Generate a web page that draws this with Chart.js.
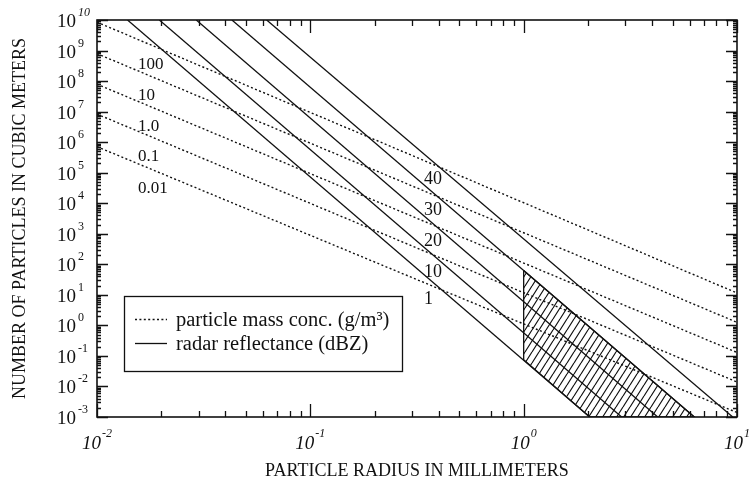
<!DOCTYPE html>
<html>
<head>
<meta charset="utf-8">
<title>Particle number vs radius</title>
<script src="https://cdn.jsdelivr.net/npm/chart.js@4.4.1/dist/chart.umd.min.js"></script>
<style>
  html, body { margin: 0; padding: 0; background: #fff; }
  #wrap { width: 750px; height: 480px; }
</style>
</head>
<body>
<div id="wrap"><canvas id="chart" width="750" height="480"></canvas></div>
<script>
// mass concentration lines (g/m3): number at r = 0.01 mm and at r = 10 mm
const massLabels = ['100', '10', '1.0', '0.1', '0.01'];
const massAtLeft = [8.5e9, 7.9e8, 7.9e7, 8.3e6, 7.1e5];
const massAtRight = [11.5, 1.26, 0.13, 0.014, 0.0014];
const radiusEnds = [0.01, 10];

// radar reflectance lines (dBZ): radius where N = 1e10 and where N = 1e-3
const dbzLabels = ['1', '10', '20', '30', '40'];
const dbzTopRadius = [0.0139, 0.0196, 0.0292, 0.0429, 0.0624];
const dbzBottomRadius = [2.04, 2.88, 4.25, 6.31, 9.55];
const countEnds = [1e10, 1e-3];

// hatched region (r >= 1 mm, between 1 and 30 dBZ)
const hatchRadius = [1, 6.31, 2.04, 1, 1];
const hatchCount = [63, 1e-3, 1e-3, 0.075, 63];

// axis ticks
const xTickValues = [0.01, 0.1, 1, 10];
const xTickExps = ['-2', '-1', '0', '1'];
const yTickValues = [1e-3, 1e-2, 1e-1, 1, 1e1, 1e2, 1e3, 1e4, 1e5, 1e6, 1e7, 1e8, 1e9, 1e10];
const yTickExps = ['-3', '-2', '-1', '0', '1', '2', '3', '4', '5', '6', '7', '8', '9', '10'];

const xTitle = 'PARTICLE RADIUS IN MILLIMETERS';
const yTitle = 'NUMBER OF PARTICLES IN CUBIC METERS';
const legendTexts = ['particle mass conc. (g/m³)', 'radar reflectance (dBZ)'];

const SERIF = '"Liberation Serif", "Times New Roman", serif';
const INK = '#111';

function makeHatch() {
  const c = document.createElement('canvas');
  c.width = 7; c.height = 11;
  const g = c.getContext('2d');
  g.strokeStyle = INK;
  g.lineWidth = 1.2;
  g.beginPath();
  for (const dx of [-7, 0, 7]) { g.moveTo(dx, 11); g.lineTo(dx + 7, 0); }
  g.stroke();
  return g.createPattern(c, 'repeat');
}

const datasets = [];

datasets.push({
  label: 'hatch',
  data: hatchRadius.map((r, i) => ({ x: r, y: hatchCount[i] })),
  showLine: true,
  fill: 'shape',
  backgroundColor: makeHatch(),
  borderColor: INK,
  borderWidth: 1.3,
  pointRadius: 0
});

massLabels.forEach((lab, i) => {
  datasets.push({
    label: lab,
    kind: 'mass',
    data: [{ x: radiusEnds[0], y: massAtLeft[i] }, { x: radiusEnds[1], y: massAtRight[i] }],
    showLine: true,
    borderColor: INK,
    borderWidth: 1.4,
    borderDash: [2, 2.4],
    pointRadius: 0,
    fill: false
  });
});

dbzLabels.forEach((lab, i) => {
  datasets.push({
    label: lab,
    kind: 'dbz',
    data: [{ x: dbzTopRadius[i], y: countEnds[0] }, { x: dbzBottomRadius[i], y: countEnds[1] }],
    showLine: true,
    borderColor: INK,
    borderWidth: 1.3,
    pointRadius: 0,
    fill: false
  });
});

// y pixel of a two point line at a given x pixel
function lineYAt(chart, pts, px) {
  const { x, y } = chart.scales;
  const x0 = x.getPixelForValue(pts[0].x), y0 = y.getPixelForValue(pts[0].y);
  const x1 = x.getPixelForValue(pts[1].x), y1 = y.getPixelForValue(pts[1].y);
  return y0 + (y1 - y0) * (px - x0) / (x1 - x0);
}

const paperAxes = {
  id: 'paperAxes',
  afterDraw(chart) {
    const { ctx, chartArea: a, scales: { x, y } } = chart;
    ctx.save();
    ctx.setLineDash([]);
    ctx.strokeStyle = INK;
    ctx.fillStyle = INK;

    // frame
    ctx.lineWidth = 1.6;
    ctx.strokeRect(a.left, a.top, a.right - a.left, a.bottom - a.top);

    // ticks, pointing inward on all four sides
    ctx.lineWidth = 1.3;
    ctx.beginPath();
    for (let d = -2; d <= 0; d++) {
      for (let k = 1; k <= 10; k++) {
        const px = Math.round(x.getPixelForValue(k * Math.pow(10, d))) + 0.5;
        const len = (k === 1 || k === 10) ? 13 : 6;
        ctx.moveTo(px, a.bottom); ctx.lineTo(px, a.bottom - len);
        ctx.moveTo(px, a.top); ctx.lineTo(px, a.top + len);
      }
    }
    for (let d = -3; d <= 9; d++) {
      for (let k = 1; k <= 10; k++) {
        const py = Math.round(y.getPixelForValue(k * Math.pow(10, d))) + 0.5;
        const len = (k === 1 || k === 10) ? 11 : 4;
        ctx.moveTo(a.left, py); ctx.lineTo(a.left + len, py);
        ctx.moveTo(a.right, py); ctx.lineTo(a.right - len, py);
      }
    }
    ctx.stroke();

    // x tick labels: 10 with superscript exponent
    xTickValues.forEach((v, i) => {
      const px = x.getPixelForValue(v);
      ctx.font = 'italic 19px ' + SERIF;
      const wb = ctx.measureText('10').width;
      ctx.font = 'italic 12px ' + SERIF;
      const we = ctx.measureText(xTickExps[i]).width;
      const start = px - (wb + we + 1) / 2;
      ctx.textAlign = 'left';
      ctx.textBaseline = 'alphabetic';
      ctx.font = 'italic 19px ' + SERIF;
      ctx.fillText('10', start, a.bottom + 32);
      ctx.font = 'italic 12px ' + SERIF;
      ctx.fillText(xTickExps[i], start + wb + 1, a.bottom + 20);
    });

    // y tick labels
    yTickValues.forEach((v, i) => {
      const py = y.getPixelForValue(v);
      ctx.textBaseline = 'alphabetic';
      ctx.textAlign = 'right';
      ctx.font = '19px ' + SERIF;
      ctx.fillText('10', a.left - 21, py + 7);
      ctx.textAlign = 'left';
      ctx.font = (yTickExps[i] === '10' ? 'italic ' : '') + '12px ' + SERIF;
      ctx.fillText(yTickExps[i], a.left - 19, py - 4);
    });

    // axis titles
    ctx.font = '18px ' + SERIF;
    ctx.textAlign = 'center';
    ctx.textBaseline = 'alphabetic';
    ctx.fillText(xTitle, (a.left + a.right) / 2, a.bottom + 59);
    ctx.save();
    ctx.translate(25, (a.top + a.bottom) / 2);
    ctx.rotate(-Math.PI / 2);
    ctx.fillText(yTitle, 0, 0);
    ctx.restore();

    // line labels
    ctx.textBaseline = 'middle';
    ctx.textAlign = 'left';
    chart.data.datasets.forEach(ds => {
      if (ds.kind === 'mass') {
        ctx.font = '17px ' + SERIF;
        const ly = lineYAt(chart, ds.data, a.left + 41) + 25;
        ctx.fillText(ds.label, a.left + 41, ly);
      } else if (ds.kind === 'dbz') {
        ctx.font = '18px ' + SERIF;
        const ly = lineYAt(chart, ds.data, 452) + 1;
        ctx.fillText(ds.label, 424, ly);
      }
    });

    // legend box
    const lx = 124.5, ly = 296.5, lw = 278, lh = 75;
    ctx.fillStyle = '#fff';
    ctx.fillRect(lx, ly, lw, lh);
    ctx.lineWidth = 1.3;
    ctx.strokeRect(lx, ly, lw, lh);
    ctx.fillStyle = INK;
    ctx.beginPath();
    ctx.setLineDash([2, 2.4]);
    ctx.moveTo(135, 319.5); ctx.lineTo(167, 319.5);
    ctx.stroke();
    ctx.setLineDash([]);
    ctx.beginPath();
    ctx.moveTo(135, 343.5); ctx.lineTo(167, 343.5);
    ctx.stroke();
    ctx.font = '20.5px ' + SERIF;
    ctx.textBaseline = 'alphabetic';
    ctx.fillText(legendTexts[0], 176, 326);
    ctx.fillText(legendTexts[1], 176, 350);

    ctx.restore();
  }
};

new Chart(document.getElementById('chart'), {
  type: 'scatter',
  data: { datasets },
  options: {
    responsive: false,
    animation: false,
    devicePixelRatio: 1,
    layout: { padding: { left: 97, right: 13, top: 20, bottom: 63 } },
    elements: { line: { tension: 0 } },
    plugins: { legend: { display: false }, tooltip: { enabled: false } },
    scales: {
      x: { type: 'logarithmic', min: 0.01, max: 10, display: false },
      y: { type: 'logarithmic', min: 1e-3, max: 1e10, display: false }
    }
  },
  plugins: [paperAxes]
});
</script>
</body>
</html>
